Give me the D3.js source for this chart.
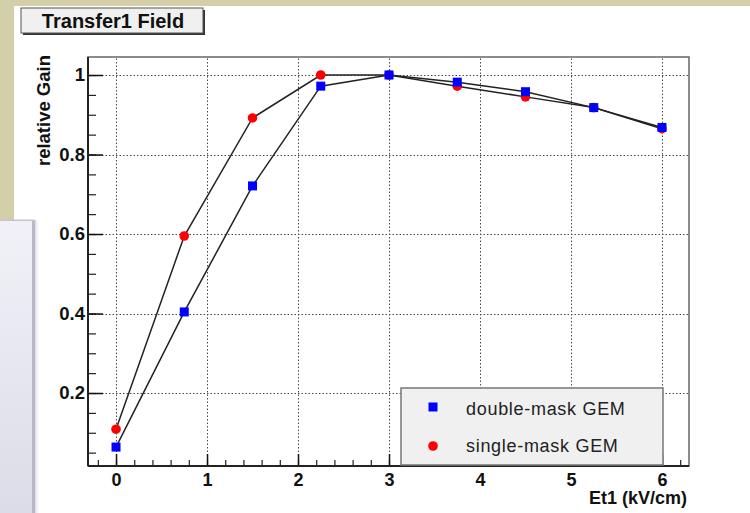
<!DOCTYPE html>
<html><head><meta charset="utf-8">
<script src="https://cdn.jsdelivr.net/npm/d3@7"></script>
<style>
html,body{margin:0;padding:0;background:#fff;}
svg{display:block;}
text{font-family:"Liberation Sans",Arial,Helvetica,sans-serif;}
</style></head>
<body>
<svg id="c" width="750" height="513"></svg>
<script>
// ---- data ----
const fieldValues = [0, 0.75, 1.5, 2.25, 3, 3.75, 4.5, 5.25, 6];
const doubleMaskGain = [0.064, 0.404, 0.721, 0.972, 1.0, 0.982, 0.958, 0.918, 0.868];
const singleMaskGain = [0.109, 0.595, 0.892, 1.0, 1.0, 0.972, 0.945, 0.918, 0.865];
const xTickLabels = ["0", "1", "2", "3", "4", "5", "6"];
const yTickLabels = ["0.2", "0.4", "0.6", "0.8", "1"];
const seriesNames = ["double-mask GEM", "single-mask GEM"];
const titleText = "Transfer1 Field";
const xTitle = "Et1 (kV/cm)";
const yTitle = "relative Gain";

const svg = d3.select("#c");
const font = '"Liberation Sans",Arial,Helvetica,sans-serif';

// ---- page background ----
const defs = svg.append("defs");
const bgGrad = defs.append("linearGradient").attr("id","panelG")
  .attr("x1",0).attr("y1",0).attr("x2",0).attr("y2",1);
bgGrad.append("stop").attr("offset","0%").attr("stop-color","#f1f1f7");
bgGrad.append("stop").attr("offset","100%").attr("stop-color","#dcdce8");
const shG = defs.append("linearGradient").attr("id","shadowG")
  .attr("x1",0).attr("y1",0).attr("x2",1).attr("y2",0);
shG.append("stop").attr("offset","0%").attr("stop-color","#c8c8d0");
shG.append("stop").attr("offset","100%").attr("stop-color","#ffffff").attr("stop-opacity",0);

svg.append("rect").attr("x",0).attr("y",0).attr("width",750).attr("height",513).attr("fill","#d3cfa9");
svg.append("rect").attr("x",14).attr("y",6).attr("width",736).attr("height",507).attr("fill","#ffffff");
// left overlay panel
svg.append("rect").attr("x",0).attr("y",220).attr("width",34).attr("height",293).attr("fill","url(#panelG)");
svg.append("rect").attr("x",34).attr("y",220).attr("width",6).attr("height",293).attr("fill","url(#shadowG)");
svg.append("rect").attr("x",32).attr("y",220).attr("width",3).attr("height",293).attr("fill","#b9b8c8");
svg.append("rect").attr("x",0).attr("y",219.5).attr("width",34).attr("height",1.5).attr("fill","#c4c3d2");

// ---- scales ----
const x = d3.scaleLinear().domain([-0.308, 6.297]).range([88, 689]);
const y = d3.scaleLinear().domain([0.0164, 1.0453]).range([466, 57]);

// ---- grid ----
const xMajor = xTickLabels.map(Number);
const yMajor = yTickLabels.map(Number);
const grid = svg.append("g").attr("stroke","#4a4a4a").attr("stroke-width",1).attr("stroke-dasharray","1.5,2");
grid.selectAll("line.vx").data(xMajor).join("line")
  .attr("x1",d=>Math.round(x(d))+0.5).attr("x2",d=>Math.round(x(d))+0.5)
  .attr("y1",y.range()[0]).attr("y2",y.range()[1]);
grid.selectAll("line.hy").data(yMajor).join("line")
  .attr("y1",d=>Math.round(y(d))+0.5).attr("y2",d=>Math.round(y(d))+0.5)
  .attr("x1",x.range()[0]).attr("x2",x.range()[1]);

// ---- frame (top/right) ----
svg.append("rect").attr("x",88).attr("y",57).attr("width",601).attr("height",409)
  .attr("fill","none").attr("stroke","#666").attr("stroke-width",1.5);

// ---- axes ----
const xMinor = d3.range(-0.2, 6.3, 0.2).map(v=>+v.toFixed(2));
const yMinor = d3.range(0.05, 1.03, 0.05).map(v=>+v.toFixed(2));

const gx = svg.append("g").attr("transform",`translate(0,${y.range()[0]})`);
gx.call(d3.axisBottom(x).tickValues(xMinor).tickSize(-6).tickFormat(""));
gx.selectAll(".tick line").attr("stroke","#222").attr("stroke-width",1.2);
const gx2 = svg.append("g").attr("transform",`translate(0,${y.range()[0]})`)
  .call(d3.axisBottom(x).tickValues(xMajor).tickSize(-12).tickPadding(7)
    .tickFormat((d,i)=>xTickLabels[i]));
gx2.selectAll(".tick line").attr("stroke","#111").attr("stroke-width",1.5);
gx2.selectAll(".tick text").attr("font-size",18).attr("font-weight","bold").attr("fill","#111").attr("font-family",font);
gx.select(".domain").remove(); gx2.select(".domain").remove();

const gy = svg.append("g").attr("transform",`translate(${x.range()[0]},0)`);
gy.call(d3.axisLeft(y).tickValues(yMinor).tickSize(-8).tickFormat(""));
gy.selectAll(".tick line").attr("stroke","#222").attr("stroke-width",1.2);
const gy2 = svg.append("g").attr("transform",`translate(${x.range()[0]},0)`)
  .call(d3.axisLeft(y).tickValues(yMajor).tickSize(-15).tickPadding(3)
    .tickFormat((d,i)=>yTickLabels[i]));
gy2.selectAll(".tick line").attr("stroke","#111").attr("stroke-width",1.5);
gy2.selectAll(".tick text").attr("font-size",18.5).attr("font-weight","bold").attr("fill","#111").attr("font-family",font);
gy.select(".domain").remove(); gy2.select(".domain").remove();

// axis lines
svg.append("line").attr("x1",88).attr("x2",689).attr("y1",466).attr("y2",466).attr("stroke","#222").attr("stroke-width",2);
svg.append("line").attr("x1",88).attr("x2",88).attr("y1",57).attr("y2",466).attr("stroke","#222").attr("stroke-width",2);

// axis titles
svg.append("text").attr("x",687).attr("y",504).attr("text-anchor","end")
  .attr("font-size",18).attr("font-weight","bold").attr("fill","#111").text(xTitle);
svg.append("text").attr("transform","translate(50,55) rotate(-90)").attr("text-anchor","end")
  .attr("font-size",18.5).attr("font-weight","bold").attr("fill","#111").text(yTitle);

// ---- series ----
const line = d3.line().x(d=>x(d[0])).y(d=>y(d[1]));
const singlePts = fieldValues.map((v,i)=>[v, singleMaskGain[i]]);
const doublePts = fieldValues.map((v,i)=>[v, doubleMaskGain[i]]);
svg.append("path").datum(singlePts).attr("d",line).attr("fill","none").attr("stroke","#222").attr("stroke-width",1.5);
svg.append("path").datum(doublePts).attr("d",line).attr("fill","none").attr("stroke","#222").attr("stroke-width",1.5);
svg.append("g").selectAll("circle").data(singlePts).join("circle")
  .attr("cx",d=>x(d[0])).attr("cy",d=>y(d[1])).attr("r",4.8).attr("fill","#ff0000");
svg.append("g").selectAll("rect").data(doublePts).join("rect")
  .attr("x",d=>x(d[0])-4.5).attr("y",d=>y(d[1])-4.5).attr("width",9).attr("height",9).attr("fill","#0000ff");

// ---- legend ----
const lg = svg.append("g");
lg.append("rect").attr("x",401).attr("y",388).attr("width",262).attr("height",77)
  .attr("fill","#f0f0f0").attr("stroke","#777").attr("stroke-width",1.5);
lg.append("rect").attr("x",433-4.5).attr("y",407-4.5).attr("width",9).attr("height",9).attr("fill","#0000ff");
lg.append("circle").attr("cx",433).attr("cy",446).attr("r",4.8).attr("fill","#ff0000");
lg.append("text").attr("x",466).attr("y",415).attr("font-size",18).attr("letter-spacing",0.7).attr("fill","#222").text(seriesNames[0]);
lg.append("text").attr("x",466).attr("y",452).attr("font-size",18).attr("letter-spacing",0.7).attr("fill","#222").text(seriesNames[1]);

// ---- title box ----
svg.append("rect").attr("x",23).attr("y",10).attr("width",182).attr("height",25).attr("fill","#333");
svg.append("rect").attr("x",21).attr("y",8).attr("width",182).attr("height",25)
  .attr("fill","#f0f0f0").attr("stroke","#555").attr("stroke-width",1);
svg.append("text").attr("x",113).attr("y",28).attr("text-anchor","middle")
  .attr("font-size",20).attr("font-weight","bold").attr("fill","#111").text(titleText);
</script>
</body></html>
